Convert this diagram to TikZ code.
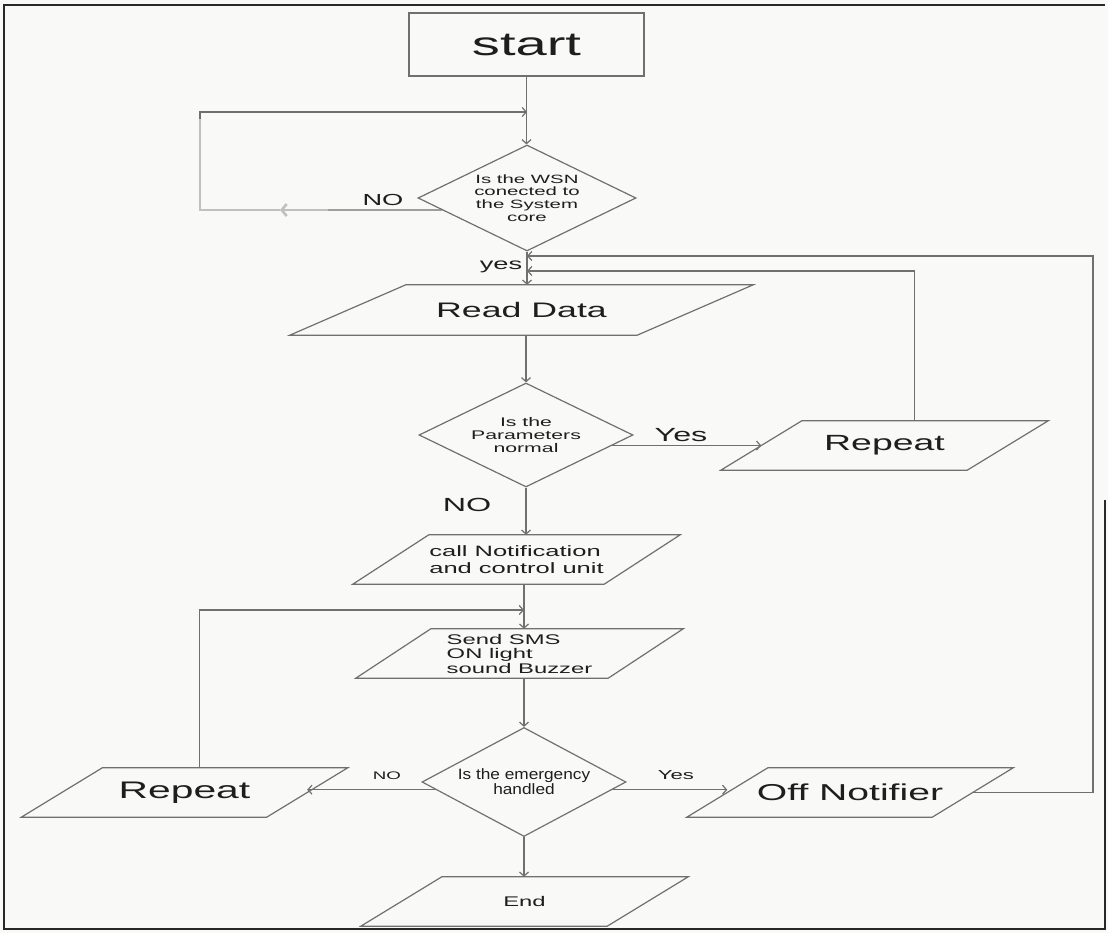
\documentclass[tikz,border=0pt]{standalone}
\usepackage{fontspec}
\setmainfont{Liberation Sans}
\newfontfamily\widefont[FakeStretch=1.7]{Liberation Sans}
\newfontfamily\slimfont[FakeStretch=1.15]{Liberation Sans}
\usetikzlibrary{shapes.geometric,arrows.meta}
\definecolor{linec}{RGB}{112,112,112}
\definecolor{fadec}{RGB}{192,192,192}
\definecolor{textc}{RGB}{30,30,30}
\definecolor{paperc}{RGB}{249,249,247}
\definecolor{framec}{RGB}{40,40,40}
\newcommand{\paral}[2]{\draw[flowline] ([xshift=#2]#1.north west) -- ([xshift=#2]#1.north east) -- ([xshift=-#2]#1.south east) -- ([xshift=-#2]#1.south west) -- cycle;}

\begin{document}
\begin{tikzpicture}[x=1pt,y=-1pt,
	flowline/.style={draw=linec,line width=1.2pt},
	flowarrow/.style={flowline,-{Straight Barb[length=4pt,width=9pt]}},
	fadeline/.style={draw=fadec,line width=2.6pt},
	fadearrow/.style={fadeline,-{Straight Barb[length=5pt,width=12pt]}},
	startbox/.style={draw=linec,line width=1.2pt,minimum width=235pt,minimum height=63pt,inner sep=0pt,text=textc},
	decision/.style={shape=diamond,aspect=2,draw=linec,line width=1.2pt,inner sep=0pt,align=center,text=textc},
	iobox/.style={inner sep=0pt,minimum height=49pt,text=textc},
	lbl/.style={inner sep=0pt,text=textc}]

		\useasboundingbox (0,0) rectangle (1108,933);
		\fill[paperc] (0,0) rectangle (1108,933);
		\draw[framec,line width=1.6pt] (1105,500) -- (1105,929) -- (4,929) -- (4,5) -- (1105,5);

		\node[startbox,font=\widefont\fontsize{33}{36}\selectfont] (st) at (526.5,44.5) {start};
		\node[decision,minimum width=218pt,minimum height=106pt,font=\widefont\fontsize{12}{12.7}\selectfont] (q1) at (527,198) {Is the WSN\\conected to\\the System\\core};
		\node[iobox,minimum width=347pt,minimum height=50pt,font=\widefont\fontsize{21}{24}\selectfont] (rd) at (521.5,310) {Read Data}; \paral{rd}{58pt}
		\node[decision,minimum width=214pt,minimum height=104pt,font=\widefont\fontsize{12.5}{13}\selectfont] (q2) at (526,435) {Is the\\Parameters\\normal};
		\node[iobox,minimum width=246pt,font=\widefont\fontsize{22}{24}\selectfont] (rp1) at (884.5,445.5) {Repeat}; \paral{rp1}{40.5pt}

		\node[iobox,minimum width=251pt,align=left,font=\widefont\fontsize{15}{16.5}\selectfont] (cn) at (516.5,559.5) {call Notification\\and control unit}; \paral{cn}{38pt}
		\node[iobox,minimum width=252pt,align=left,font=\widefont\fontsize{14}{14.5}\selectfont] (sms) at (519.5,653.5) {Send SMS\\ON light\\sound Buzzer}; \paral{sms}{37.5pt}
		\node[decision,minimum width=204pt,minimum height=109pt,font=\slimfont\fontsize{15}{15}\selectfont] (q3) at (524,782) {Is the emergency\\handled};
		\node[iobox,minimum width=245pt,font=\widefont\fontsize{24}{26}\selectfont] (rp2) at (184.5,792.5) {Repeat}; \paral{rp2}{40.5pt}
		\node[iobox,minimum width=245pt,font=\widefont\fontsize{23}{26}\selectfont] (off) at (850,792.5) {Off Notifier}; \paral{off}{40.5pt}
		\node[iobox,minimum width=246pt,font=\widefont\fontsize{14}{16}\selectfont] (en) at (524.5,901.5) {End}; \paral{en}{40.5pt}

		\node[lbl,font=\widefont\fontsize{16}{16}\selectfont] (t1) at (383,200) {NO};
		\node[lbl,font=\widefont\fontsize{16}{16}\selectfont] (t2) at (501,267) {yes};
		\node[lbl,font=\widefont\fontsize{19}{19}\selectfont] (t3) at (681,435) {Yes};
		\node[lbl,font=\widefont\fontsize{19}{19}\selectfont] (t4) at (467,505) {NO};
		\node[lbl,font=\widefont\fontsize{11}{11}\selectfont] (t5) at (387,776) {NO};
		\node[lbl,font=\widefont\fontsize{13}{13}\selectfont] (t6) at (676,775) {Yes};

		\coordinate (n1) at (328,210);
		\coordinate (n2) at (280,210);
		\coordinate (n3) at (200,210);
		\coordinate (n4) at (200,119);
		\coordinate (j1) at (527,112);
		\coordinate (j2) at (527,256);
		\coordinate (j3) at (527,271);
		\coordinate (j4) at (524,610);
		\coordinate (r1) at (1093,256);

		\draw[flowarrow] (st.south) -- (st.south |- q1.north);
		\draw[flowline] (q1.188) -- (n1);
		\draw[fadearrow] (n1) -- (n2);
		\draw[fadeline] (n2) -- (n3) -- (n4);
		\draw[flowarrow] (n4) |- (j1);

		\draw[flowarrow] (q1.south) -- (q1.south |- rd.north);
		\draw[flowarrow] (off.east) -| (r1) -- (j2);
		\draw[flowarrow] ([xshift=30pt]rp1.north) |- (j3);

		\draw[flowarrow] (q2.north |- rd.south) -- (q2.north);
		\draw[flowarrow] (q2.-7) -- (q2.-7 -| rp1.west);
		\draw[flowarrow] (q2.south) -- (q2.south |- cn.north);

		\draw[flowarrow] (q3.north |- cn.south) -- (q3.north |- sms.north);
		\draw[flowarrow] ([xshift=15pt]rp2.north) |- (j4);
		\draw[flowarrow] (q3.north |- sms.south) -- (q3.north);
		\draw[flowarrow] (q3.185) -- (q3.185 -| rp2.east);
		\draw[flowarrow] (q3.-5) -- (q3.-5 -| off.west);
		\draw[flowarrow] (q3.south) -- (q3.south |- en.north);

	\end{tikzpicture}
\end{document}
